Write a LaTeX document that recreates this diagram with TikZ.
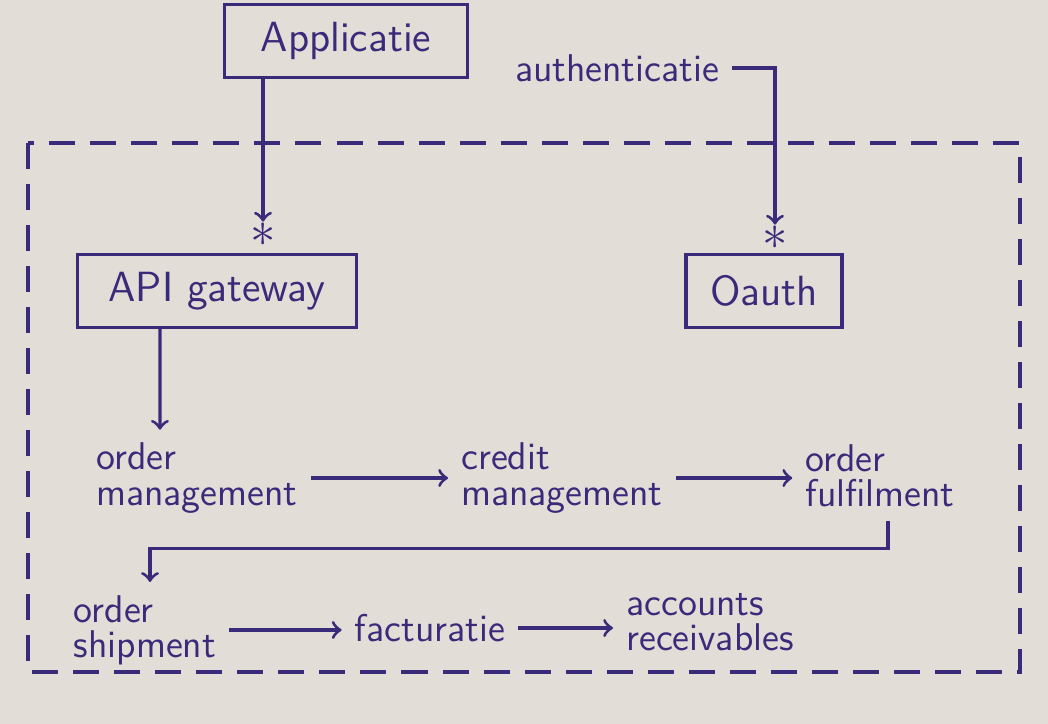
\documentclass[tikz,border=0pt]{standalone}
\usepackage{tikz}
\usetikzlibrary{arrows}
\definecolor{ink}{RGB}{58,42,122}
\definecolor{paper}{RGB}{226,222,215}

\begin{document}
\begin{tikzpicture}[x=0.01cm, y=-0.01cm, >=to, line width=0.9pt, ink,
  font=\sffamily\fontsize{11}{10}\selectfont,
  box/.style={draw, font=\sffamily\large, minimum height=0.73cm},
  step text/.style={align=left},
  star/.style={font=\Large, inner sep=0pt}]
  \fill[paper] (0,0) rectangle (1048,724);
  \useasboundingbox (0,0) rectangle (1048,724);

  % boundary
  \draw[dash pattern=on 0.26cm off 0.15cm] (28,143) rectangle (1020,672);

  % boxes and labels
  \node[box, minimum width=2.43cm] (app) at (346,41) {Applicatie};
  \node (auth) at (617,68) {authenticatie};
  \node[star] (s1) at (263,235) {$\ast$};
  \node[star] (s2) at (775,238) {$\ast$};
  \node[box, minimum width=2.79cm] (gw) at (217,291) {API gateway};
  \node[box, minimum width=1.56cm] (oauth) at (764,291) {Oauth};

  \node[step text] (om) at (197,478) {order\\management};
  \node[step text] (cm) at (562,478) {credit\\management};
  \node[step text] (of) at (880,476) {order\\fulfilment};
  \node[step text] (os) at (145,630) {order\\shipment};
  \node (fact) at (430,628) {facturatie};
  \node[step text] (acc) at (710,622) {accounts\\receivables};

  \draw[->] (app.south -| s1) -- (s1.north);
  \draw[->] (auth.east) -| (s2.north);
  \draw[->] ([xshift=-0.57cm]gw.south) -- ([xshift=-0.37cm]om.north);
  \draw[->] ([xshift=0.08cm]of.south) -- ++(0,28) -| ([xshift=0.05cm]os.north);
  \draw[->] (om.east) -- (om.east -| cm.west);
  \draw[->] (cm.east) -- (cm.east -| of.west);
  \draw[->] (os.east) -- (os.east -| fact.west);
  \draw[->] (fact.east) -- (fact.east -| acc.west);
\end{tikzpicture}
\end{document}
